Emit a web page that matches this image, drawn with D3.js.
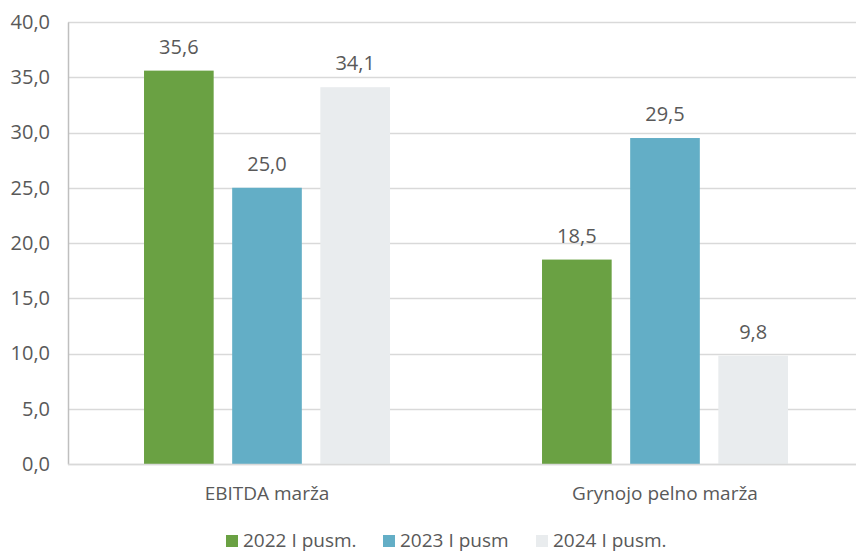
<!DOCTYPE html>
<html>
<head>
<meta charset="utf-8">
<script src="https://cdn.jsdelivr.net/npm/d3@7"></script>
<style>
  body { margin: 0; background: #fff; }
  text { font-family: "Open Sans", sans-serif; fill: #595959; }
</style>
</head>
<body>
<svg id="chart" width="857" height="552"></svg>
<script>
const categories = ["EBITDA marža", "Grynojo pelno marža"];
const seriesNames = ["2022 I pusm.", "2023 I pusm", "2024 I pusm."];
const values2022 = [35.6, 18.5];
const values2023 = [25.0, 29.5];
const values2024 = [34.1, 9.8];
const yTicks = [0, 5, 10, 15, 20, 25, 30, 35, 40];
const colors = ["#6aa143", "#63aec6", "#e9ecee"];

const svg = d3.select("#chart");
const margin = {top: 22, left: 68, bottom: 88};
const plotBottom = 552 - margin.bottom;
const plotRight = 856;

const seriesValues = [values2022, values2023, values2024];
const data = categories.map((c, i) => ({
    category: c,
    values: seriesNames.map((s, j) => ({series: s, value: seriesValues[j][i], color: colors[j]}))
}));

const x0 = d3.scaleBand()
    .domain(categories)
    .range([margin.left, 864])
    .paddingInner(0.382)
    .paddingOuter(0.191);

const x1 = d3.scaleBand()
    .domain(seriesNames)
    .range([0, x0.bandwidth()])
    .paddingInner(0.21);

const y = d3.scaleLinear()
    .domain([0, 40])
    .range([plotBottom, margin.top]);

const fmt = v => d3.format(".1f")(v).replace(".", ",");

// gridlines
svg.append("g")
    .selectAll("line")
    .data(yTicks)
    .join("line")
    .attr("x1", margin.left)
    .attr("x2", plotRight)
    .attr("y1", d => Math.round(y(d)) + 0.5)
    .attr("y2", d => Math.round(y(d)) + 0.5)
    .attr("stroke", "#d9d9d9")
    .attr("stroke-width", 1.5);

// y axis
const yAxis = svg.append("g")
    .attr("transform", "translate(" + margin.left + ",0)")
    .call(d3.axisLeft(y).tickValues(yTicks).tickFormat(fmt).tickSize(0).tickPadding(18));
yAxis.select(".domain").attr("stroke", "#bfbfbf").attr("stroke-width", 1.5);
yAxis.selectAll("text").style("font-size", "20px").style("font-family", "'Open Sans', sans-serif").attr("fill", "#595959");

// bars
const groups = svg.append("g")
    .selectAll("g")
    .data(data)
    .join("g")
    .attr("transform", d => "translate(" + x0(d.category) + ",0)");

groups.selectAll("rect")
    .data(d => d.values)
    .join("rect")
    .attr("x", d => x1(d.series))
    .attr("width", x1.bandwidth())
    .attr("y", d => y(d.value))
    .attr("height", d => y(0) - y(d.value))
    .attr("fill", d => d.color);

groups.selectAll("text")
    .data(d => d.values)
    .join("text")
    .attr("x", d => x1(d.series) + x1.bandwidth() / 2)
    .attr("y", d => y(d.value) - 17)
    .attr("text-anchor", "middle")
    .style("font-size", "20px")
    .text(d => fmt(d.value));

// baseline
svg.append("line")
    .attr("x1", margin.left)
    .attr("x2", plotRight)
    .attr("y1", Math.round(y(0)) + 0.5)
    .attr("y2", Math.round(y(0)) + 0.5)
    .attr("stroke", "#d9d9d9")
    .attr("stroke-width", 1.5);

// category labels
svg.append("g")
    .selectAll("text")
    .data(categories)
    .join("text")
    .attr("x", d => x0(d) + x0.bandwidth() / 2)
    .attr("y", 500)
    .attr("text-anchor", "middle")
    .style("font-size", "19px")
    .text(d => d);

// legend
const legendX = [226, 383, 536];
const legend = svg.append("g")
    .selectAll("g")
    .data(seriesNames)
    .join("g")
    .attr("transform", (d, i) => "translate(" + legendX[i] + ",535)");

legend.append("rect")
    .attr("width", 12)
    .attr("height", 12)
    .attr("fill", (d, i) => colors[i]);

legend.append("text")
    .attr("x", 17)
    .attr("y", 12)
    .style("font-size", "19px")
    .text(d => d);
</script>
</body>
</html>
